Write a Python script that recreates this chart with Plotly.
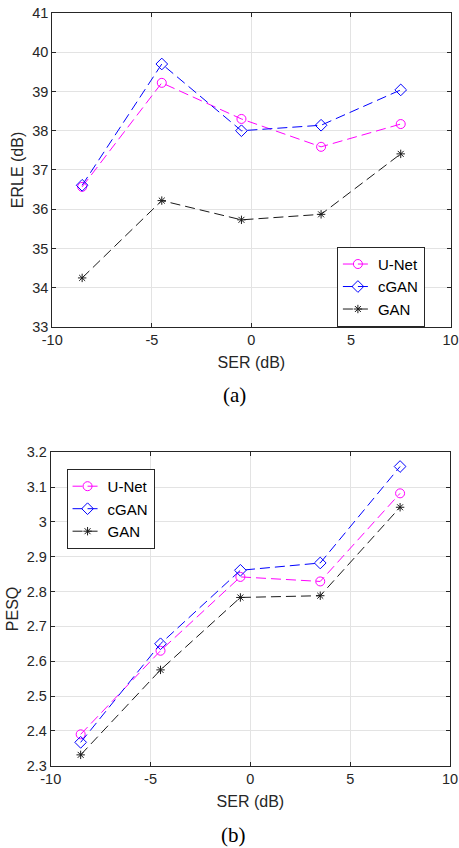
import plotly.graph_objects as go

ser = [-8.5, -4.5, -0.5, 3.5, 7.5]

erle_unet = [36.57, 39.22, 38.30, 37.59, 38.17]
erle_cgan = [36.61, 39.70, 38.00, 38.14, 39.04]
erle_gan = [34.25, 36.22, 35.73, 35.87, 37.41]

pesq_unet = [2.390, 2.630, 2.842, 2.829, 3.082]
pesq_cgan = [2.367, 2.650, 2.861, 2.882, 3.159]
pesq_gan = [2.331, 2.575, 2.783, 2.788, 3.042]

x_ticks = [-10, -5, 0, 5, 10]
x_labels = ["-10", "-5", "0", "5", "10"]

names = ["U-Net", "cGAN", "GAN"]
colors = ["#ff00ff", "#0000ff", "#1a1a1a"]
symbols = ["circle-open", "diamond-open", "asterisk-open"]
sizes = [9, 9, 7]

AX = "#262626"
GRID = "#e3e3e3"
FONT = "Liberation Sans"

fig = go.Figure()

panels = [
    (erle_unet, erle_cgan, erle_gan, "x", "y", "legend"),
    (pesq_unet, pesq_cgan, pesq_gan, "x2", "y2", "legend2"),
]

for u, c, g, xa, ya, leg in panels:
    for i, vals in enumerate([u, c, g]):
        fig.add_trace(go.Scatter(
            x=ser,
            y=vals,
            name=names[i],
            mode="lines+markers",
            line=dict(color=colors[i], width=1, dash="10px,5px"),
            marker=dict(symbol=symbols[i], size=sizes[i],
                        color=colors[i], line=dict(width=1, color=colors[i])),
            xaxis=xa,
            yaxis=ya,
            legend=leg,
        ))


def xaxis(domain, anchor):
    return dict(
        domain=domain, anchor=anchor, range=[-10, 10],
        tickvals=x_ticks, ticktext=x_labels,
        showline=True, linecolor=AX, linewidth=1, mirror="ticks",
        ticks="inside", ticklen=4, tickcolor=AX,
        showgrid=True, gridcolor=GRID, zeroline=False,
        tickfont=dict(family=FONT, size=14.5, color=AX),
        title=dict(text="SER (dB)", standoff=9,
                   font=dict(family=FONT, size=16, color=AX)),
        automargin=False,
    )


def yaxis(domain, anchor, rng, dtick, title):
    return dict(
        domain=domain, anchor=anchor, range=rng, dtick=dtick,
        showline=True, linecolor=AX, linewidth=1, mirror="ticks",
        ticks="inside", ticklen=4, tickcolor=AX,
        showgrid=True, gridcolor=GRID, zeroline=False,
        tickfont=dict(family=FONT, size=14.5, color=AX),
        title=dict(text=title, standoff=4,
                   font=dict(family=FONT, size=16, color=AX)),
        automargin=False,
    )


legend_style = dict(
    bgcolor="white", bordercolor=AX, borderwidth=1,
    font=dict(family=FONT, size=15, color="black"),
    xanchor="left", yanchor="top", tracegroupgap=0,
    itemwidth=30,
)

fig.update_layout(
    width=459,
    height=848,
    margin=dict(l=0, r=0, t=0, b=0),
    paper_bgcolor="white",
    plot_bgcolor="white",
    xaxis=xaxis([0.1139, 0.9815], "y"),
    yaxis=yaxis([0.6144, 0.9847], "x", [33, 41], 1, "ERLE (dB)"),
    xaxis2=xaxis([0.1105, 0.9804], "y2"),
    yaxis2=yaxis([0.0971, 0.4667], "x2", [2.3, 3.2], 0.1, "PESQ"),
    legend=dict(x=0.734, y=0.709, **legend_style),
    legend2=dict(x=0.145, y=0.447, **legend_style),
    annotations=[
        dict(text="(a)", x=0.51, y=1 - 395 / 848, xref="paper", yref="paper",
             showarrow=False, xanchor="center", yanchor="middle",
             font=dict(family="Liberation Serif", size=21, color="black")),
        dict(text="(b)", x=0.508, y=1 - 835 / 848, xref="paper", yref="paper",
             showarrow=False, xanchor="center", yanchor="middle",
             font=dict(family="Liberation Serif", size=21, color="black")),
    ],
)

fig.write_html("out.html", config={"displayModeBar": False},
               post_script="document.body.style.margin='0';")
